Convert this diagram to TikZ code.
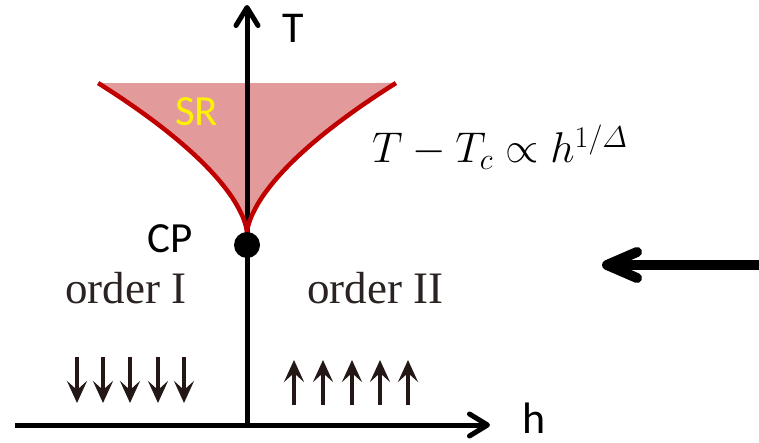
\RequirePackage{fix-cm}
\documentclass[tikz,border=0pt]{standalone}
\usepackage{amsmath,amssymb}
\usepackage{fontspec}
\setmainfont{Liberation Serif}
\setsansfont{Carlito}
\usepackage{tikz}
\usetikzlibrary{arrows.meta,positioning,calc}
\usepackage{xcolor}
\definecolor{srpink}{HTML}{E39A9A}
\definecolor{srred}{HTML}{C00000}
\definecolor{spinbrown}{HTML}{231816}
\definecolor{ordergray}{HTML}{2B2222}

\begin{document}
\begin{tikzpicture}[
  x=1pt, y=-1pt,
  lbl/.style={font=\fontsize{44}{44}\selectfont\sffamily, inner sep=0pt, anchor=base west},
  ordlbl/.style={font=\fontsize{45}{45}\selectfont\rmfamily, text=ordergray, inner sep=0pt, anchor=base west},
  axis/.style={line width=5pt, -{Straight Barb[round, length=18pt, width=22pt]}},
  crit/.style={line width=4.5pt, srred},
  spin/.style={line width=4pt, spinbrown, -{Stealth[length=22pt, width=20pt, inset=9pt]}},
  field/.style={line width=10pt, line cap=round, -{Straight Barb[round, length=30pt, width=26pt]}},
  dot/.style={circle, fill=black, minimum size=26pt, inner sep=0pt},
]
\useasboundingbox (0,0) rectangle (759,443);

% axes
\coordinate (O) at (247,425);
\coordinate (hstart) at (15,425);
\coordinate (hend) at (490,425);
\coordinate (Tend) at (247,5);
\coordinate (cusp) at (247,233);

% supercritical region
\fill[srpink] (cusp) -- plot[variable=\t, domain=0.01:1, samples=40] ({247-149*\t^1.6},{233-150*\t})
  -- plot[variable=\t, domain=1:0.01, samples=40] ({247+149*\t^1.6},{233-150*\t}) -- cycle;

\draw[axis] (hstart) -- (hend);
\draw[axis] (O) -- (Tend);

\draw[crit] (cusp) -- plot[variable=\t, domain=0.01:1, samples=40] ({247-149*\t^1.6},{233-150*\t});
\draw[crit] (cusp) -- plot[variable=\t, domain=0.01:1, samples=40] ({247+149*\t^1.6},{233-150*\t});

\node[dot] (cp) at (247,245) {};

% labels
\node[lbl] (Tlbl) at (282,43) {T};
\node[lbl] (hlbl) at (522,433) {h};
\node[lbl, font=\fontsize{43}{43}\selectfont\sffamily] (cplbl) at (147,253) {CP};
\node[lbl, font=\fontsize{43}{43}\selectfont\sffamily, text=yellow] (srlbl) at (175,126) {SR};
\node[inner sep=0pt, anchor=base west, font=\fontsize{43}{43}\selectfont] (law) at (372,163)
  {$T-T_c\propto h^{1/\varDelta}$};
\node[ordlbl] (ord1) at (65,303) {order I};
\node[ordlbl] (ord2) at (307,303) {order II};

% spins
\foreach \x in {77,103,130,158,184}
  \draw[spin] (\x,357) -- (\x,403);
\foreach \x in {294,323,352,380,408}
  \draw[spin] (\x,405) -- (\x,360);

% applied field
\coordinate (fstart) at (764,265);
\coordinate (fend) at (602,265);
\draw[field] (fstart) -- (fend);
\end{tikzpicture}
\end{document}
